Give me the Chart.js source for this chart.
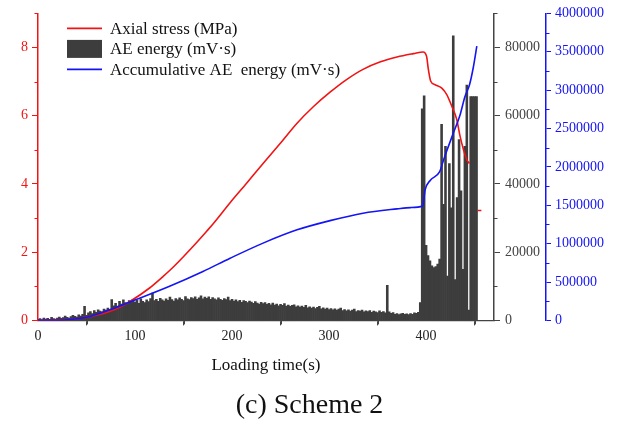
<!DOCTYPE html>
<html>
<head>
<meta charset="utf-8">
<title>Scheme 2</title>
<script src="https://cdn.jsdelivr.net/npm/chart.js@4.4.1/dist/chart.umd.min.js"></script>
<style>
  html, body { margin: 0; padding: 0; background: #fff; }
  #wrap { position: relative; width: 619px; height: 425px; }
</style>
</head>
<body>
<div id="wrap"><canvas id="chart"></canvas></div>
<script>
// AE energy per time bin (mV·s), one bin every AE_STEP seconds starting at 0 s
const AE_STEP = 2;
const aeEnergy = [
  300, 500, 200, 700, 400, 600, 300, 900, 500, 400,
  700, 1000, 600, 800, 1300, 900, 700, 1100, 1500, 1200,
  1000, 1600, 1300, 1800, 4100, 1500, 2200, 2600, 2000, 2900,
  2400, 3100, 2700, 2500, 3300, 3000, 3600, 3200, 6100, 4300,
  5000, 4200, 5600, 4800, 6000, 5200, 4700, 5800, 5300, 6200,
  5400, 5900, 5000, 6300, 5600, 5200, 6000, 5500, 6400, 8000,
  5800, 6200, 5600, 6500, 6000, 5700, 6300, 5900, 6800, 6100,
  5700, 6400, 6000, 6600, 6200, 5800, 7000, 6300, 6100, 6700,
  6400, 6900, 6200, 6600, 7200, 6300, 6800, 6500, 6900, 6200,
  6700, 6300, 6000, 6600, 6200, 5900, 6400, 6100, 6800, 5800,
  6200, 5700, 6000, 5500, 5900, 5300, 5800, 5600, 5200, 5700,
  5400, 5000, 5500, 5100, 4800, 5300, 4900, 5200, 4700, 5000,
  4600, 5100, 4500, 4800, 4300, 4700, 4400, 4900, 4200, 4500,
  4100, 4400, 4600, 4000, 4300, 3900, 4200, 3800, 4400, 3700,
  4000, 3600, 3900, 3500, 3800, 4100, 3400, 3700, 3300, 3600,
  3200, 3500, 3100, 3400, 3000, 3300, 3600, 2900, 3200, 2800,
  3100, 2700, 3000, 3300, 2600, 2900, 2700, 3000, 2500, 2800,
  2600, 2900, 2400, 2700, 2500, 2300, 2800, 2400, 2600, 2200,
  10300, 2500, 2100, 2300, 1800, 2000, 1700, 1900, 2100, 1800,
  1900, 1700, 2000, 1800, 2200, 2100, 2400, 5200, 62000, 65800,
  22000, 19000, 17500, 16000, 15500, 15800, 16500, 18000, 57500, 34000,
  51000, 13000, 46000, 33000, 83400, 12000, 36000, 53000, 38000, 15000,
  51000, 69000, 3000, 65600, 65600, 65600, 65600
];

// axial stress (MPa); null leaves the gap before the last short piece
const stressTime = [0, 20, 40, 60, 80, 95, 115, 129, 140, 164, 174, 181, 198, 215, 232, 250, 267, 284, 301, 318,
  335, 353, 370, 387, 397, 400.5, 402.4, 404.8, 409.3, 416.2, 421.3, 426.5, 431.6, 435, 438.5, 442, 444.7, 449, 453, 457];
const stressValue = [0, 0.01, 0.05, 0.15, 0.33, 0.56, 0.95, 1.29, 1.58, 2.3, 2.62, 2.85, 3.45, 4.02, 4.6, 5.2, 5.78, 6.27, 6.69, 7.06,
  7.36, 7.58, 7.72, 7.82, 7.87, 7.74, 7.35, 7.01, 6.91, 6.81, 6.62, 6.28, 5.89, 5.4, 5.01, 4.71, 4.6, null, 3.22, 3.22];

// accumulative AE energy (mV·s)
const cumTime = [0, 20, 35, 50, 74, 96, 135, 170, 198, 232, 267, 301, 335, 370, 384, 396.5, 399, 404, 414, 418, 421,
  428, 435, 440, 444.7, 448.8, 452.3];
const cumValue = [0, 2000, 15000, 40000, 139000, 247000, 442000, 638000, 810000, 1007000, 1180000, 1300000, 1397000,
  1453000, 1470000, 1490000, 1700000, 1820000, 1939000, 2091000, 2199000, 2438000, 2677000, 2915000, 3067000,
  3305000, 3574000];

// labelled ticks of the AE energy axis
const energyTicks = [0, 20000, 40000, 60000, 80000];

const SERIF = '"Liberation Serif", "Times New Roman", serif';
const RED = '#f01414';
const BLUE = '#1414f5';
const GREY = '#444444';
const BAR = '#3d3d3d';

// half-step ticks between the labelled ones
const minorStep = { x: 50, y: 1, y1: 10000, y2: 250000 };

const minorTicks = {
  id: 'minorTicks',
  afterDraw(chart) {
    const ctx = chart.ctx;
    ctx.save();
    for (const id in minorStep) {
      const s = chart.scales[id];
      const step = minorStep[id];
      ctx.strokeStyle = s.options.border.color;
      ctx.lineWidth = 1;
      ctx.beginPath();
      for (let v = step; v <= s.max + 1e-9; v += 2 * step) {
        if (s.isHorizontal()) {
          const px = Math.round(s.getPixelForValue(v)) + 0.5;
          ctx.moveTo(px, s.top);
          ctx.lineTo(px, s.top + 4);
        } else {
          const py = Math.round(s.getPixelForValue(v)) + 0.5;
          if (s.position === 'left') {
            ctx.moveTo(s.right, py);
            ctx.lineTo(s.right - 3.5, py);
          } else {
            ctx.moveTo(s.left, py);
            ctx.lineTo(s.left + 3.5, py);
          }
        }
      }
      ctx.stroke();
    }
    ctx.restore();
  }
};

// legend drawn inside the plot, top left
const innerLegend = {
  id: 'innerLegend',
  afterDraw(chart) {
    const ctx = chart.ctx;
    const area = chart.chartArea;
    const x0 = area.left + 29;
    const sw = 35;
    ctx.save();
    ctx.font = '17px ' + SERIF;
    ctx.textBaseline = 'middle';
    chart.data.datasets.forEach((ds, i) => {
      const y = area.top + 15 + i * 20.5;
      if (ds.type === 'bar') {
        ctx.fillStyle = ds.backgroundColor;
        ctx.fillRect(x0, y - 9, sw, 18);
      } else {
        ctx.strokeStyle = ds.borderColor;
        ctx.lineWidth = 1.6;
        ctx.beginPath();
        ctx.moveTo(x0, y);
        ctx.lineTo(x0 + sw, y);
        ctx.stroke();
      }
      ctx.fillStyle = '#111';
      ctx.fillText(ds.label, x0 + sw + 8, y + 1);
    });
    ctx.restore();
  }
};

const pts = (xs, ys) => xs.map((x, i) => ({ x: x, y: ys[i] }));

new Chart(document.getElementById('chart'), {
  type: 'bar',
  data: {
    datasets: [
      {
        type: 'line',
        label: 'Axial stress (MPa)',
        data: pts(stressTime, stressValue),
        yAxisID: 'y',
        borderColor: RED,
        borderWidth: 1.6,
        pointRadius: 0,
        cubicInterpolationMode: 'monotone',
        spanGaps: false,
        order: 2
      },
      {
        type: 'bar',
        label: 'AE energy (mV\u00b7s)',
        data: aeEnergy.map((v, i) => ({ x: i * AE_STEP, y: v })),
        yAxisID: 'y1',
        backgroundColor: BAR,
        borderWidth: 0,
        barPercentage: 1,
        categoryPercentage: 1,
        grouped: false,
        order: 3
      },
      {
        type: 'line',
        label: 'Accumulative AE  energy (mV\u00b7s)',
        data: pts(cumTime, cumValue),
        yAxisID: 'y2',
        borderColor: BLUE,
        borderWidth: 1.6,
        pointRadius: 0,
        cubicInterpolationMode: 'monotone',
        order: 1
      }
    ]
  },
  options: {
    responsive: true,
    maintainAspectRatio: false,
    animation: false,
    layout: { padding: { top: 13, left: 0, right: 0, bottom: 0 } },
    plugins: {
      legend: { display: false },
      tooltip: { enabled: false },
      title: {
        display: true,
        position: 'bottom',
        text: '(c) Scheme 2',
        color: '#111',
        font: { family: SERIF, size: 28, weight: 'normal' },
        padding: { top: 6, bottom: 3 }
      }
    },
    scales: {
      x: {
        type: 'linear',
        position: 'bottom',
        min: 0,
        max: 470,
        offset: false,
        ticks: {
          stepSize: 100,
          includeBounds: false,
          maxRotation: 0,
          padding: 3,
          color: '#222',
          font: { family: SERIF, size: 14 }
        },
        grid: { drawOnChartArea: false, tickLength: 5, color: GREY },
        border: { color: GREY, width: 1.2 },
        title: {
          display: true,
          text: 'Loading time(s)',
          color: '#111',
          font: { family: SERIF, size: 17 },
          padding: { top: 4, bottom: 7 }
        },
        afterFit(s) { s.height = 62; }
      },
      y: {
        position: 'left',
        min: 0,
        max: 9,
        ticks: {
          stepSize: 2,
          includeBounds: false,
          padding: 4,
          color: RED,
          font: { family: SERIF, size: 14 }
        },
        grid: { drawOnChartArea: false, tickLength: 6, color: RED },
        border: { color: RED, width: 1.5 },
        afterFit(s) { s.width = 38; }
      },
      y1: {
        position: 'right',
        weight: 0,
        min: 0,
        max: 90000,
        afterBuildTicks(s) { s.ticks = energyTicks.map(v => ({ value: v })); },
        ticks: {
          padding: 5,
          color: GREY,
          font: { family: SERIF, size: 14 },
          callback: v => String(v)
        },
        grid: { drawOnChartArea: false, tickLength: 6, color: GREY },
        border: { color: GREY, width: 1.5 },
        afterFit(s) { s.width = 52; }
      },
      y2: {
        position: 'right',
        weight: 1,
        min: 0,
        max: 4000000,
        ticks: {
          stepSize: 500000,
          padding: 4,
          color: BLUE,
          font: { family: SERIF, size: 14 },
          callback: v => String(v)
        },
        grid: { drawOnChartArea: false, tickLength: 5, color: BLUE },
        border: { color: BLUE, width: 1.5 },
        afterFit(s) { s.width = 73; }
      }
    }
  },
  plugins: [minorTicks, innerLegend]
});
</script>
</body>
</html>
